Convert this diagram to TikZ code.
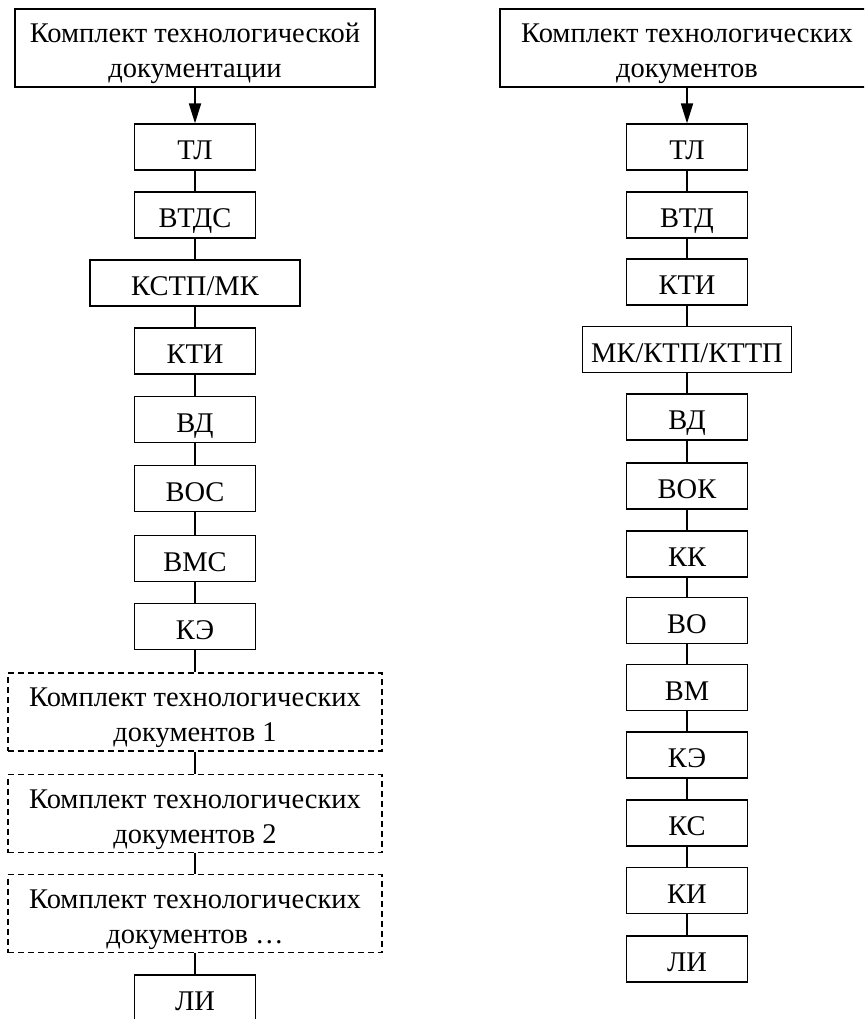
\documentclass[tikz,border=0pt]{standalone}
\usepackage{fontspec}
\setmainfont{Liberation Serif}
\usetikzlibrary{arrows.meta}
\newcommand\firstln{\rule{0pt}{30.5pt}}
\newcommand\lastln{\rule[-5.5pt]{0pt}{5.5pt}}
\begin{document}
\begin{tikzpicture}[x=1pt,y=1pt,
  frame/.style={draw, line width=1.2pt, inner sep=0pt,
    font=\fontsize{28.5}{35}\selectfont, align=center},
  box/.style={frame, minimum width=121pt, minimum height=46pt,
    text height=25pt, text depth=0pt},
  widebox/.style={frame, minimum height=78pt},
  dbox/.style={widebox, dash pattern=on 6pt off 4pt},
  link/.style={line width=1.2pt},
  arr/.style={line width=1.8pt, -{Triangle[length=20pt,width=12pt]}}]
\path[use as bounding box, clip] (0,0) rectangle (864,-1019);

% left column
\node[widebox, minimum width=360pt] (L0) at (195,-48) {\firstln Комплект технологической\\документации\lastln};
\node[box] (L1) at (195,-147) {ТЛ};
\node[box] (L2) at (195,-215) {ВТДС};
\node[box, minimum width=210pt] (L3) at (195,-283) {КСТП/МК};
\node[box] (L4) at (195,-351) {КТИ};
\node[box] (L5) at (195,-419.5) {ВД};
\node[box] (L6) at (195,-488.5) {ВОС};
\node[box] (L7) at (195,-558.5) {ВМС};
\node[box] (L8) at (195,-626.5) {КЭ};
\node[dbox, minimum width=374pt] (L9) at (195,-712) {\firstln Комплект технологических\\документов 1\lastln};
\node[dbox, minimum width=374pt] (L10) at (195,-813.5) {\firstln Комплект технологических\\документов 2\lastln};
\node[dbox, minimum width=374pt] (L11) at (195,-913.5) {\firstln Комплект технологических\\документов …\lastln};
\node[box] (L12) at (195,-998) {ЛИ};

\draw[arr] (L0) -- (L1);
\foreach \a/\b in {1/2,2/3,3/4,4/5,5/6,6/7,7/8,8/9,9/10,10/11,11/12}
  \draw[link] (L\a) -- (L\b);

% right column
\node[widebox, minimum width=374pt] (R0) at (687,-48) {\firstln Комплект технологических\\документов\lastln};
\node[box] (R1) at (687,-147) {ТЛ};
\node[box] (R2) at (687,-215) {ВТД};
\node[box] (R3) at (687,-282) {КТИ};
\node[box, minimum width=209pt] (R4) at (687,-349.5) {МК/КТП/КТТП};
\node[box] (R5) at (687,-417) {ВД};
\node[box] (R6) at (687,-486) {ВОК};
\node[box] (R7) at (687,-554) {КК};
\node[box] (R8) at (687,-620.5) {ВО};
\node[box] (R9) at (687,-687.5) {ВМ};
\node[box] (R10) at (687,-755) {КЭ};
\node[box] (R11) at (687,-823) {КС};
\node[box] (R12) at (687,-890.5) {КИ};
\node[box] (R13) at (687,-959) {ЛИ};

\draw[arr] (R0) -- (R1);
\foreach \a/\b in {1/2,2/3,3/4,4/5,5/6,6/7,7/8,8/9,9/10,10/11,11/12,12/13}
  \draw[link] (R\a) -- (R\b);
\end{tikzpicture}
\end{document}
